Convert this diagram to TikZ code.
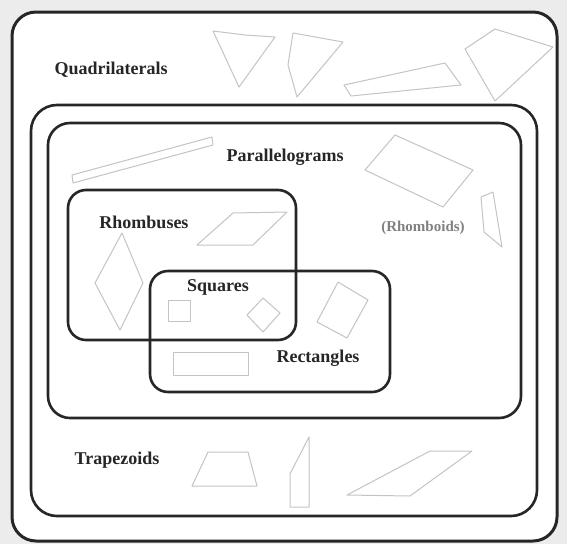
\documentclass[tikz,border=0pt]{standalone}
\usepackage{fontspec}
\setmainfont{Liberation Serif}
\usetikzlibrary{positioning}

\definecolor{boxline}{HTML}{262626}
\definecolor{shapeline}{HTML}{C4C4C4}
\definecolor{paper}{HTML}{ECECEC}

\begin{document}
\begin{tikzpicture}[x=1pt, y=-1pt,
  region/.style={draw=boxline, line width=2.6pt, rounded corners=20pt},
  figure/.style={draw=shapeline, line width=1pt, line join=round},
  lbl/.style={font=\fontsize{18}{20}\selectfont\bfseries, text=boxline, inner sep=1pt}]
  % Page
  \fill[paper] (0,0) rectangle (567,544);
  \useasboundingbox (0,0) rectangle (567,544);

  % Regions
  \draw[region, fill=white, line width=3pt, rounded corners=24pt] (12,12) rectangle (557,541);
  \draw[region, rounded corners=26pt] (31,105) rectangle (537,516);
  \draw[region, rounded corners=22pt] (48,123) rectangle (521,418);
  \draw[region, rounded corners=18pt] (68,190) rectangle (296,340);
  \draw[region, rounded corners=18pt] (150,271) rectangle (390,392);

  % Labels
  \node[lbl] (quad)  at (111,70)  {Quadrilaterals};
  \node[lbl] (para)  at (285,157) {Parallelograms};
  \node[lbl] (rhomb) at (144,222) {Rhombuses};
  \node[lbl, text=gray, font=\fontsize{15}{17}\selectfont\bfseries] (rhoid) at (423,228) {(Rhomboids)};
  \node[lbl] (sq)    at (218,287) {Squares};
  \node[lbl] (rect)  at (318,358) {Rectangles};
  \node[lbl] (trap)  at (117,460) {Trapezoids};

  % Quadrilaterals
  \draw[figure] (213,31) -- (245,35) -- (275,37) -- (239,87) -- cycle;
  \draw[figure] (293,33) -- (343,42) -- (297,97) -- (288,65) -- cycle;
  \draw[figure] (344,85) -- (445,63) -- (461,85) -- (351,96) -- cycle;
  \draw[figure] (465,49) -- (495,29) -- (553,47) -- (495,101) -- cycle;

  % Parallelograms
  \draw[figure] (72,175) -- (212,137) -- (213,145) -- (73,183) -- cycle;
  \draw[figure] (365,170) -- (395,135) -- (473,170) -- (443,207) -- cycle;
  \draw[figure] (481,197) -- (493,192) -- (502,247) -- (484,232) -- cycle;

  % Rhombuses
  \draw[figure] (197,245) -- (233,213) -- (287,212) -- (253,245) -- cycle;
  \draw[figure] (122,233) -- (143,283) -- (120,330) -- (95,283) -- cycle;

  % Squares
  \draw[figure] (168,300) rectangle (190,321);
  \draw[figure] (247,315) -- (263,298) -- (280,313) -- (263,332) -- cycle;

  % Rectangles
  \draw[figure] (173,352) rectangle (248,375);
  \draw[figure] (317,322) -- (338,282) -- (368,300) -- (347,338) -- cycle;

  % Trapezoids
  \draw[figure] (208,452) -- (248,452) -- (257,486) -- (192,486) -- cycle;
  \draw[figure] (290,474) -- (309,437) -- (309,507) -- (290,507) -- cycle;
  \draw[figure] (347,495) -- (430,451) -- (472,451) -- (410,496) -- cycle;
\end{tikzpicture}
\end{document}
